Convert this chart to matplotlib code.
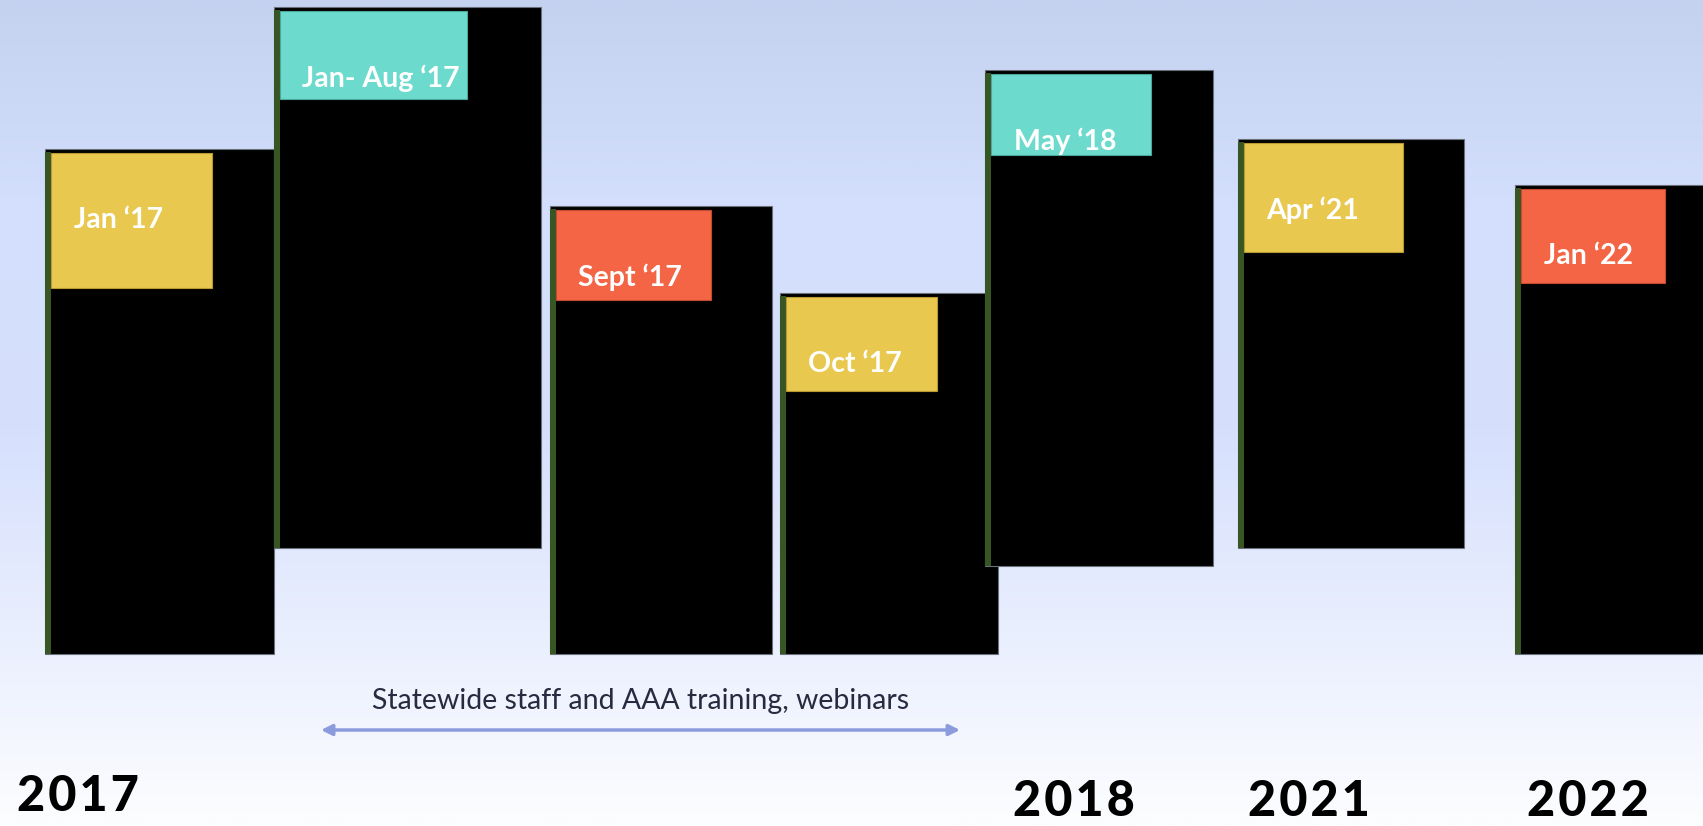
import matplotlib.pyplot as plt
import numpy as np
from matplotlib.colors import LinearSegmentedColormap
from matplotlib.patches import Rectangle

# milestone labels and their tab colours
labels = ["Jan \u201817", "Jan- Aug \u201817", "Sept \u201817", "Oct \u201817",
          "May \u201818", "Apr \u201821", "Jan \u201822"]
kinds = ["yellow", "teal", "red", "yellow", "teal", "yellow", "red"]

# black column extents (pixels on the 1703x826 slide)
col_left = [45, 274, 550, 780, 985, 1238, 1515]
col_right = [274, 541, 772, 998, 1213, 1464, 1712]
col_top = [149, 7, 206, 293, 70, 139, 185]
col_bottom = [654, 548, 654, 654, 566, 548, 654]

# coloured tab bottoms / rights
tab_right = [212, 467, 711, 937, 1151, 1403, 1665]
tab_bottom = [288, 99, 300, 391, 155, 252, 283]

years = ["2017", "2018", "2021", "2022"]
year_x = [78, 1074, 1309, 1588]
year_base = [811, 816, 816, 816]

span_text = "Statewide staff and AAA training, webinars"
span_from, span_to = 321, 960

palette = {"yellow": "#E8C84F", "teal": "#6CDACC", "red": "#F36545"}
edge = {"yellow": "#B89A30", "teal": "#4AA89C", "red": "#C44A30"}

W, H = 1703, 826
fig = plt.figure(figsize=(W / 100, H / 100), dpi=100)
ax = fig.add_axes([0, 0, 1, 1])
ax.set_xlim(0, W)
ax.set_ylim(H, 0)
ax.axis("off")

# background gradient
bg = LinearSegmentedColormap.from_list(
    "bg", [(0.0, "#C4D2F0"), (0.25, "#D3DFFC"), (0.52, "#D6E0FD"), (1.0, "#FCFDFF")])
grad = np.linspace(0, 1, 400).reshape(-1, 1)
ax.imshow(grad, cmap=bg, extent=[0, W, H, 0], aspect="auto", zorder=0)

for i, lab in enumerate(labels):
    z = 2 + i * 3
    x0, x1 = col_left[i], col_right[i]
    y0, y1 = col_top[i], col_bottom[i]
    ax.add_patch(Rectangle((x0, y0), x1 - x0, y1 - y0, facecolor="black",
                           edgecolor="#6b6f7a", lw=0.8, zorder=z))
    # green stripe on the left
    ax.add_patch(Rectangle((x0, y0 + 3), 5.5, y1 - y0 - 3, facecolor="#375623",
                           edgecolor="none", zorder=z + 0.5))
    tx0, ty0 = x0 + 5.5, y0 + 4
    ax.add_patch(Rectangle((tx0, ty0), tab_right[i] - tx0, tab_bottom[i] - ty0,
                           facecolor=palette[kinds[i]], edgecolor=edge[kinds[i]],
                           lw=0.8, zorder=z + 1))
    ax.text(tx0 + 23, ty0 + 67, lab, color="white", fontsize=20.5, fontweight="bold",
            family="Lato", ha="left", va="center", zorder=z + 2)

ax.annotate("", xy=(span_from, 730), xytext=(span_to, 730),
            arrowprops=dict(arrowstyle="<|-|>", color="#8C9BDC", lw=2.5,
                            mutation_scale=16, shrinkA=0, shrinkB=0), zorder=30)
ax.text((span_from + span_to) / 2, 701, span_text, color="#262B40", fontsize=20.5,
        family="Lato", ha="center", va="center", zorder=30)

for yr, x, y in zip(years, year_x, year_base):
    ax.text(x, y, "\u200a".join(yr), color="black", fontsize=35, fontweight="black",
            family="Lato", ha="center", va="baseline", zorder=30)

fig.savefig("out.png", dpi=100)
